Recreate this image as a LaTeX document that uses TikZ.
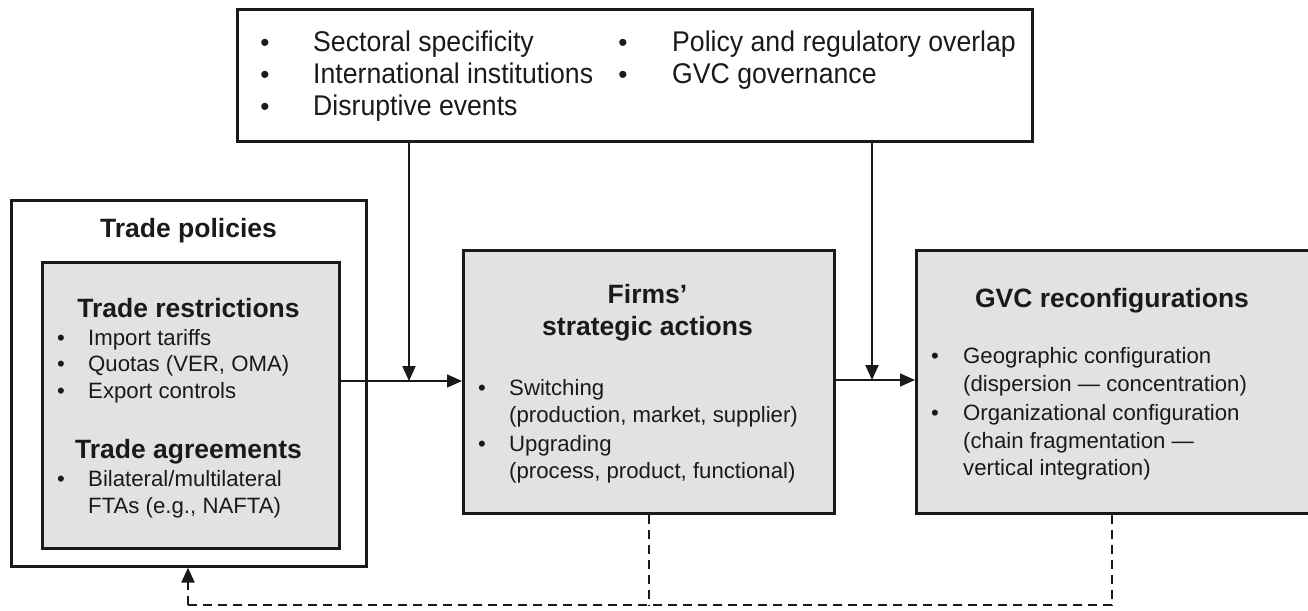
\documentclass[tikz,border=0pt]{standalone}
\usepackage{fontspec}
\setmainfont{Liberation Sans}
\newfontfamily\topfont[FakeStretch=0.935]{Liberation Sans}
\usetikzlibrary{arrows.meta}
\definecolor{boxgrey}{HTML}{E2E2E2}
\definecolor{edgegrey}{HTML}{1A1A1A}
\begin{document}
\begin{tikzpicture}[x=1pt,y=-1pt,
  frame/.style={draw=edgegrey, line width=2.6pt, anchor=north west, inner sep=0pt},
  greybox/.style={frame, fill=boxgrey},
  body/.style={anchor=base west, inner sep=0pt, text=edgegrey, font=\fontsize{22.2}{26}\selectfont},
  topt/.style={anchor=base west, inner sep=0pt, text=edgegrey, font=\topfont\fontsize{28.5}{30}\selectfont},
  bul/.style={anchor=base, inner sep=0pt, text=edgegrey, font=\fontsize{22.2}{26}\selectfont},
  topbul/.style={anchor=base, inner sep=0pt, text=edgegrey, font=\fontsize{26}{30}\selectfont},
  title/.style={anchor=base, inner sep=0pt, text=edgegrey, font=\bfseries\fontsize{26.5}{30}\selectfont},
  conn/.style={draw=edgegrey, line width=1.5pt},
  vconn/.style={draw=edgegrey, line width=2pt},
  tip/.style={-{Triangle[length=15pt,width=13pt]}},
  fb/.style={draw=edgegrey, line width=2.2pt, dash pattern=on 9pt off 6pt}
]
\useasboundingbox (0,0) rectangle (1308,610);

% boxes
\node[frame, minimum width=795pt, minimum height=132pt] (top) at (236,8) {};
\node[frame, minimum width=355pt, minimum height=366pt] (outer) at (10,199) {};
\node[greybox, minimum width=297pt, minimum height=286pt] (inner) at (41,261) {};
\node[greybox, minimum width=371pt, minimum height=263pt] (firms) at (462,249) {};
\node[greybox, minimum width=398pt, minimum height=263pt] (gvc) at (915,249) {};

% top box text
\node[topbul] (tb1) at (265,52) {•};
\node[topt] (tt1) at (313,52) {Sectoral specificity};
\node[topbul] (tb2) at (265,83.5) {•};
\node[topt] (tt2) at (313,83.5) {International institutions};
\node[topbul] (tb3) at (265,115) {•};
\node[topt] (tt3) at (313,115) {Disruptive events};
\node[topbul] (tb4) at (623,52) {•};
\node[topt] (tt4) at (672,52) {Policy and regulatory overlap};
\node[topbul] (tb5) at (623,83.5) {•};
\node[topt] (tt5) at (672,83.5) {GVC governance};

% trade policies
\node[title] (tp) at (188.5,237) {Trade policies};
\node[title] (tr) at (188.5,317) {Trade restrictions};
\node[bul] (rb1) at (61,345) {•};
\node[body] (rt1) at (88,345) {Import tariffs};
\node[bul] (rb2) at (61,371.5) {•};
\node[body] (rt2) at (88,371.5) {Quotas (VER, OMA)};
\node[bul] (rb3) at (61,398) {•};
\node[body] (rt3) at (88,398) {Export controls};
\node[title] (ta) at (188.5,458) {Trade agreements};
\node[bul] (ab1) at (61,486) {•};
\node[body] (at1) at (88,486) {Bilateral/multilateral};
\node[body] (at2) at (88,513) {FTAs (e.g., NAFTA)};

% firms
\node[title] (f1) at (647.5,303) {Firms’};
\node[title] (f2) at (647.5,335) {strategic actions};
\node[bul] (fb1) at (482,395) {•};
\node[body] (ft1) at (509,395) {Switching};
\node[body] (ft2) at (509,422.5) {(production, market, supplier)};
\node[bul] (fb2) at (482,451) {•};
\node[body] (ft3) at (509,451) {Upgrading};
\node[body] (ft4) at (509,478.5) {(process, product, functional)};

% GVC
\node[title] (g0) at (1112,307) {GVC reconfigurations};
\node[bul] (gb1) at (935,363) {•};
\node[body] (gt1) at (963,363) {Geographic configuration};
\node[body] (gt2) at (963,391.5) {(dispersion — concentration)};
\node[bul] (gb2) at (935,420) {•};
\node[body] (gt3) at (963,420) {Organizational configuration};
\node[body] (gt4) at (963,448) {(chain fragmentation —};
\node[body] (gt5) at (963,475.5) {vertical integration)};

% connectors
\coordinate (j1) at (409,381);
\coordinate (j2) at (872,380);
\coordinate (fbl) at (188,605);
\draw[conn, tip] (inner.east |- j1) -- (firms.west |- j1);
\draw[vconn, tip] (top.south -| j1) -- (j1);
\draw[conn, tip] (firms.east |- j2) -- (gvc.west |- j2);
\draw[vconn, tip] (top.south -| j2) -- (j2);
\draw[fb] (gvc.south -| g0) -- (g0 |- fbl) -- (fbl);
\draw[fb] (firms.south) -- (firms.south |- fbl);
\draw[fb, tip] (fbl) -- (outer.south -| fbl);
\end{tikzpicture}
\end{document}
